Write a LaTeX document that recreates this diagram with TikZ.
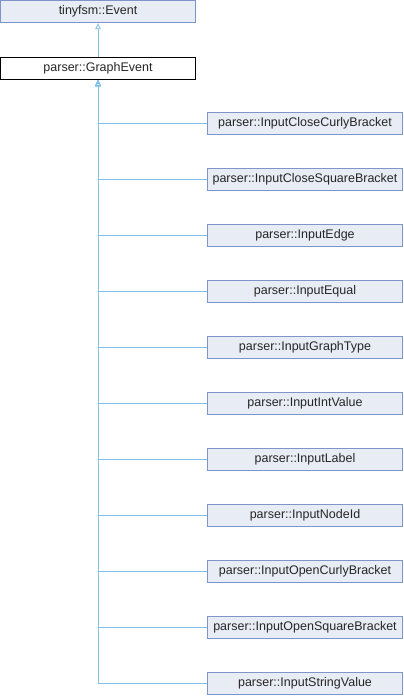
\documentclass[tikz,border=0pt]{standalone}
\usepackage{fontspec}
\setmainfont{Liberation Sans}
\usetikzlibrary{arrows.meta}
\definecolor{boxfill}{HTML}{E8ECF5}
\definecolor{boxdraw}{HTML}{7F94C8}
\definecolor{edgec}{HTML}{7FC0EC}
\tikzset{
  cls/.style={draw=boxdraw, fill=boxfill, line width=0.9pt, minimum width=195pt, minimum height=22.5pt, inner sep=0pt, font=\fontsize{12.5}{14}\selectfont, text=black!85},
  main/.style={cls, draw=black, fill=white},
  inh/.style={draw=edgec, line width=0.8pt, -{Triangle[open, length=6pt, width=5.5pt]}}
}
\begin{document}
\begin{tikzpicture}[x=1pt,y=1pt]
\useasboundingbox (0,0) rectangle (404,-696);
\node[cls] (ev) at (98,-11.5) {tinyfsm::Event};
\node[main] (ge) at (98,-68.5) {parser::GraphEvent};
\draw[inh] (ge.north) -- (ev.south);
\foreach \n [count=\i from 0] in {InputCloseCurlyBracket,InputCloseSquareBracket,InputEdge,InputEqual,InputGraphType,InputIntValue,InputLabel,InputNodeId,InputOpenCurlyBracket,InputOpenSquareBracket,InputStringValue}{
  \node[cls] (c\i) at (305,-123.5-56*\i) {parser::\n};
  \draw[inh] (c\i.west) -| (ge.south);
}
\end{tikzpicture}
\end{document}
